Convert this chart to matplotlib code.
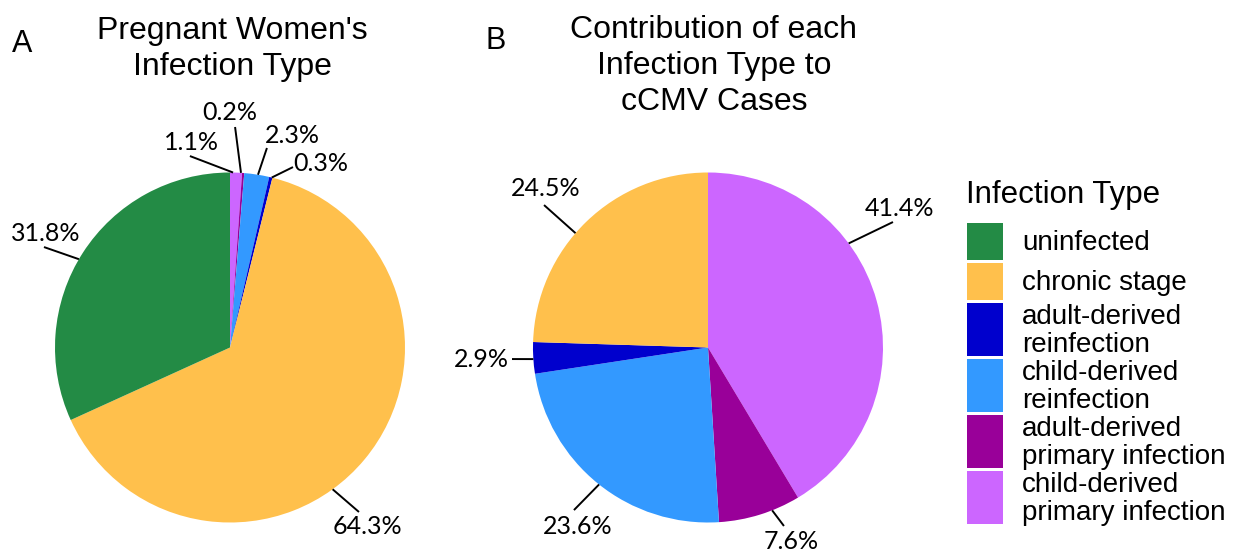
import numpy as np
import matplotlib
matplotlib.use("Agg")
import matplotlib.pyplot as plt
from matplotlib.patches import Rectangle

# --- DATA ---
categories = ["uninfected", "chronic stage", "adult-derived\nreinfection",
              "child-derived\nreinfection", "adult-derived\nprimary infection",
              "child-derived\nprimary infection"]
colors = ["#238B45", "#FFC04C", "#0000CD", "#3399FF", "#990099", "#CC66FF"]

pct_women = [31.8, 64.3, 0.3, 2.3, 0.2, 1.1]
pct_ccmv = [0.0, 24.5, 2.9, 23.6, 7.6, 41.4]

title_a = "Pregnant Women's\nInfection Type"
title_b = "Contribution of each\nInfection Type to\ncCMV Cases"
legend_title = "Infection Type"

# --- label placement (repel-style, in units of pie radius) ---
# edge angle (deg clockwise from top), leader end (u, v), text centre (u, v)
lab_a = [(300.3, (-1.063, 0.574), (-1.051, 0.649)),
         (144.1, (0.737, -0.94), (0.783, -1.02)),
         (13.8, (0.36, 1.031), (0.52, 1.054)),
         (9.2, (0.211, 1.14), (0.354, 1.214)),
         (3.6, (0.029, 1.26), (0.0, 1.34)),
         (1.0, (-0.229, 1.094), (-0.223, 1.17))]
lab_b = [None,
         (310.8, (-0.937, 0.814), (-0.926, 0.911)),
         (266.2, (-1.12, -0.066), (-1.297, -0.066)),
         (218.5, (-0.766, -0.929), (-0.743, -1.02)),
         (158.5, (0.434, -1.02), (0.474, -1.111)),
         (53.5, (1.057, 0.717), (1.097, 0.797))]

W, H = 1234, 552
R = 175
fig = plt.figure(figsize=(W / 100, H / 100), dpi=100)
ax = fig.add_axes([0, 0, 1, 1])

title_font = ["Liberation Sans", "DejaVu Sans"]
pct_font = ["Lato", "DejaVu Sans"]


def draw_pie(cx, cy, values, labels):
    ax.pie(values[::-1], colors=colors[::-1], startangle=90, counterclock=False,
           radius=R, center=(cx, cy), wedgeprops=dict(linewidth=0))
    for val, lab in zip(values, labels):
        if lab is None or val == 0:
            continue
        ang, (lu, lv), (tu, tv) = lab
        th = np.deg2rad(ang)
        ex, ey = cx + R * np.sin(th), cy + R * np.cos(th)
        ax.plot([ex, cx + R * lu], [ey, cy + R * lv], color="black", lw=1.4,
                solid_capstyle="butt")
        ax.text(cx + R * tu, cy + R * tv, f"{val:.1f}%", ha="center", va="center",
                fontsize=18, family=pct_font)


cy = H - 347.5
draw_pie(230, cy, pct_women, lab_a)
draw_pie(708, cy, pct_ccmv, lab_b)

# titles
ax.text(232, H - 16, title_a, ha="center", va="top", fontsize=23,
        family=title_font, linespacing=1.25)
ax.text(714, H - 15, title_b, ha="center", va="top", fontsize=23,
        family=title_font, linespacing=1.25)
ax.text(22, H - 44, "A", ha="center", va="center", fontsize=22, family=title_font)
ax.text(496, H - 41, "B", ha="center", va="center", fontsize=22, family=title_font)

# legend
ax.text(966, H - 203, legend_title, ha="left", va="baseline", fontsize=22.5,
        family=title_font)
y = H - 223
for cat, col in zip(categories, colors):
    h = 37 if "\n" not in cat else 53
    ax.add_patch(Rectangle((967, y - h), 36, h, facecolor=col, edgecolor="none"))
    ax.text(1022, y - h / 2 - 2, cat, ha="left", va="center", fontsize=20,
            family=title_font, linespacing=1.1)
    y -= h + 3

ax.set_xlim(0, W)
ax.set_ylim(0, H)
ax.set_aspect("equal")
ax.axis("off")

fig.savefig("out.png", dpi=100)
